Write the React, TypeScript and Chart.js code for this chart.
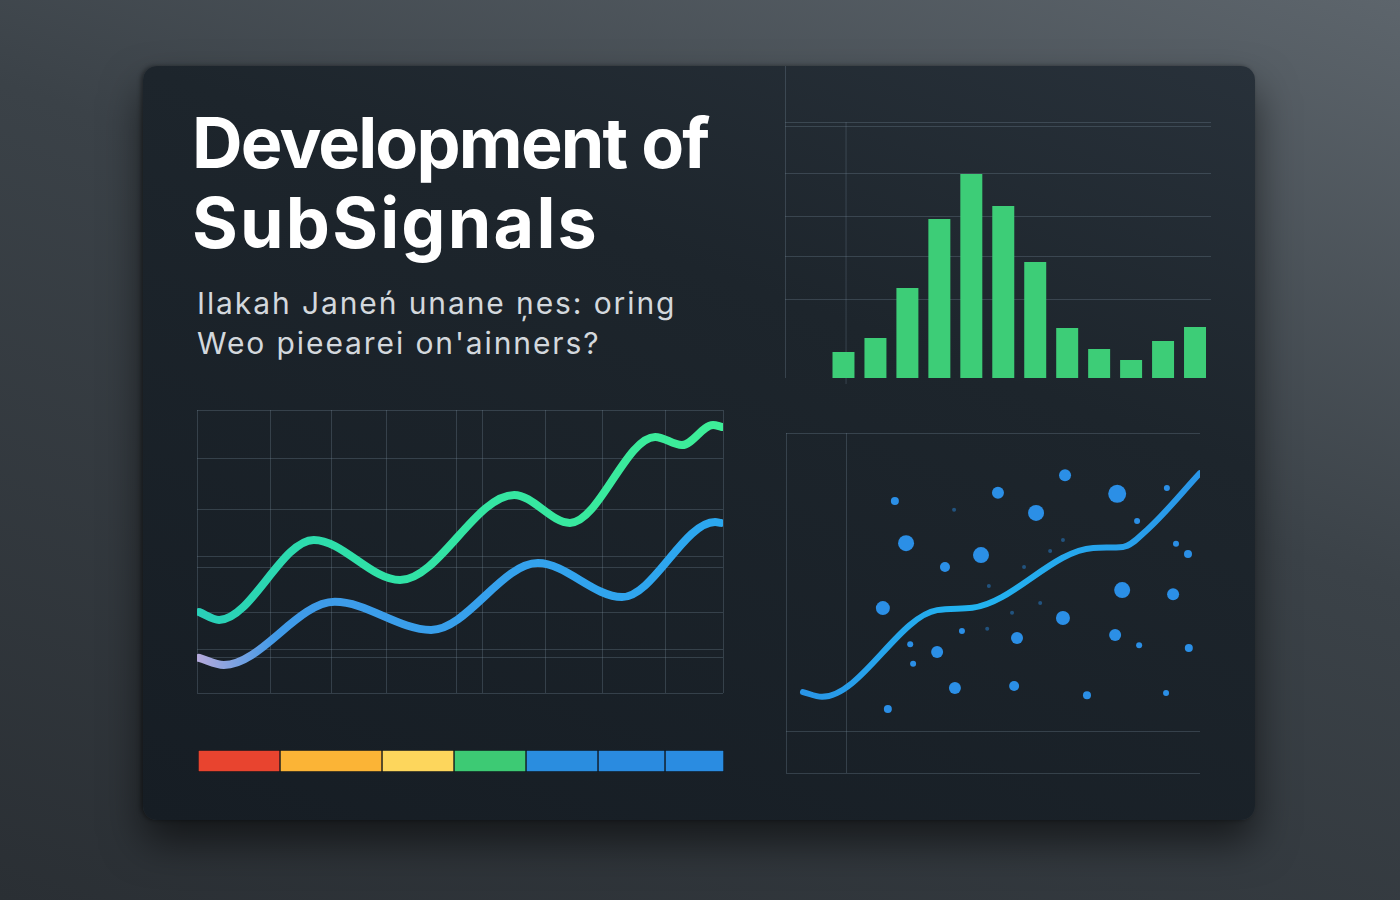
import React, { useEffect, useRef } from "react";
import { Chart, registerables } from "chart.js";

Chart.register(...registerables);

// ---------- DATA ----------
const titleLines = ["Development of", "SubSignals"];
const titleSpacing = [-1.8, 2.2];
const subtitleLines = ["Ilakah Janeń unane ņes: oring", "Weo pieearei on'ainners?"];

// Line chart (two smooth series)
const greenX = [0.4, 4.2, 22.2, 38.6, 60.3, 70.9, 87.1, 92.2, 98.1, 99.8];
const greenY = [28.6, 25.8, 54.1, 39.9, 70.0, 60.1, 90.5, 87.6, 94.7, 94.0];
const blueX = [0.4, 5.1, 26.2, 44.5, 64.8, 80.8, 98.5, 99.6];
const blueY = [12.4, 9.9, 32.2, 22.3, 45.9, 33.9, 60.4, 60.1];
const lineGridX = [0, 13.9, 25.5, 36.1, 49.4, 54.2, 66.2, 77.0, 89.0, 100];
const lineGridY = [0, 12.7, 15.5, 28.6, 44.2, 48.1, 65.0, 83.0, 100];

// Bar chart
const barValues = [26, 40, 90, 159, 204, 172, 116, 50, 29, 18, 37, 51];
const barGridY = [79, 122, 162, 205, 252, 256];

// Scatter chart
const trendX = [4.1, 8.7, 36.5, 45.0, 74.2, 81.4, 87.2, 100];
const trendY = [23.8, 22.4, 47.9, 48.6, 66.2, 66.5, 71.5, 88.2];
const dotX = [26.3, 29.0, 23.4, 38.4, 47.1, 51.2, 60.4, 67.4, 80.0, 81.2, 93.5, 97.1, 94.2, 92.0, 84.8, 66.9, 55.8, 79.5, 85.3, 97.3, 36.5, 30.0, 30.7, 40.8, 55.1, 72.7, 91.8, 24.6, 42.5, 48.6, 49.0, 57.5, 66.9, 63.8, 40.6, 54.6, 61.4];
const dotY = [80.0, 67.6, 48.5, 60.6, 64.1, 82.4, 76.5, 87.6, 82.1, 53.8, 52.6, 64.4, 67.4, 83.8, 74.1, 45.6, 39.7, 40.6, 37.6, 36.8, 35.6, 37.9, 32.1, 25.0, 25.6, 22.9, 23.5, 18.8, 41.8, 42.4, 55.0, 60.6, 68.5, 65.3, 77.4, 47.1, 50.0];
const dotSize = [4, 8, 7, 5, 8, 6, 8, 6, 9, 8, 6, 4, 3, 3, 3, 7, 6, 6, 3, 4, 6, 3, 3, 6, 5, 4, 3, 4, 3, 2, 2, 2, 2, 2, 2, 2, 2];
const scatterGridX = [0, 14.5];
const scatterGridY = [0, 12.35, 100];

// Colour strip
const stripValues = [82, 102, 72, 72, 72, 67, 59];
const stripColors = ["#e8442f", "#fbb436", "#fdd65c", "#3dca74", "#2a8ddf", "#2a8be0", "#2a8ce1"];

const gridColor = "rgba(120,140,155,0.3)";

function useChart(ref: React.RefObject<HTMLCanvasElement | null>, make: (c: HTMLCanvasElement) => Chart) {
  useEffect(() => {
    if (!ref.current) return;
    const ch = make(ref.current);
    return () => ch.destroy();
  }, []);
}

function hGradient(stops: [number, string][]) {
  return (ctx: any) => {
    const chart = ctx.chart;
    const area = chart.chartArea;
    if (!area) return stops[0][1];
    const g = chart.ctx.createLinearGradient(area.left, 0, area.right, 0);
    stops.forEach(([o, c]) => g.addColorStop(o, c));
    return g;
  };
}

function LineChart() {
  const ref = useRef<HTMLCanvasElement>(null);
  useChart(ref, (c) =>
    new Chart(c, {
      type: "line",
      data: {
        datasets: [
          {
            data: greenX.map((x, i) => ({ x, y: greenY[i] })),
            borderColor: hGradient([[0, "#29cfb9"], [0.3, "#2fe0a8"], [1, "#3eee98"]]),
            borderWidth: 8,
            pointRadius: 0,
            cubicInterpolationMode: "monotone",
            borderCapStyle: "round",
          },
          {
            data: blueX.map((x, i) => ({ x, y: blueY[i] })),
            borderColor: hGradient([[0, "#b6aadb"], [0.15, "#409ae8"], [1, "#2ba8f0"]]),
            borderWidth: 8,
            pointRadius: 0,
            cubicInterpolationMode: "monotone",
            borderCapStyle: "round",
          },
        ],
      },
      options: {
        animation: false,
        responsive: false,
        layout: { padding: 10 },
        plugins: { legend: { display: false }, tooltip: { enabled: false } },
        scales: {
          x: {
            type: "linear", min: 0, max: 100,
            afterBuildTicks: (s: any) => { s.ticks = lineGridX.map((v) => ({ value: v })); },
            ticks: { display: false },
            grid: { color: gridColor, drawTicks: false },
            border: { display: false },
          },
          y: {
            min: 0, max: 100,
            afterBuildTicks: (s: any) => { s.ticks = lineGridY.map((v) => ({ value: v })); },
            ticks: { display: false },
            grid: { color: gridColor, drawTicks: false },
            border: { display: false },
          },
        },
      },
    } as any)
  );
  return <canvas ref={ref} width={546} height={303} style={{ position: "absolute", left: 187, top: 400 }} />;
}

const partialLinePlugin = {
  id: "partialLine",
  beforeDatasetsDraw(chart: any) {
    const { ctx, scales } = chart;
    const x = scales.x.getPixelForValue(0.08);
    const y0 = scales.y.getPixelForValue(256);
    ctx.save();
    ctx.strokeStyle = gridColor;
    ctx.lineWidth = 1;
    ctx.beginPath();
    ctx.moveTo(x, y0);
    ctx.lineTo(x, chart.chartArea.bottom + 6);
    ctx.stroke();
    ctx.restore();
  },
};

function BarChart() {
  const ref = useRef<HTMLCanvasElement>(null);
  useChart(ref, (c) =>
    new Chart(c, {
      type: "bar",
      data: {
        datasets: [
          {
            data: barValues.map((v, i) => ({ x: i, y: v })),
            backgroundColor: "#3dcd77",
            barPercentage: 0.86,
            categoryPercentage: 0.8,
          },
        ],
      },
      plugins: [partialLinePlugin],
      options: {
        animation: false,
        responsive: false,
        layout: { padding: 10 },
        plugins: { legend: { display: false }, tooltip: { enabled: false } },
        scales: {
          x: {
            type: "linear", min: -1.83, max: 11.5, offset: false,
            afterBuildTicks: (s: any) => { s.ticks = [{ value: -1.83 }]; },
            ticks: { display: false },
            grid: { color: gridColor, drawTicks: false, offset: false },
            border: { display: false },
          },
          y: {
            min: 0, max: 312,
            afterBuildTicks: (s: any) => { s.ticks = barGridY.map((v) => ({ value: v })); },
            ticks: { display: false },
            grid: { color: gridColor, drawTicks: false },
            border: { display: false },
          },
        },
      },
    } as any)
  );
  return <canvas ref={ref} width={446} height={332} style={{ position: "absolute", left: 775, top: 56 }} />;
}

function ScatterChart() {
  const ref = useRef<HTMLCanvasElement>(null);
  useChart(ref, (c) =>
    new Chart(c, {
      type: "scatter",
      data: {
        datasets: [
          {
            type: "line",
            data: trendX.map((x, i) => ({ x, y: trendY[i] })),
            borderColor: hGradient([[0, "#2a92e6"], [0.45, "#22b4f0"], [1, "#2a96e8"]]),
            borderWidth: 6,
            pointRadius: 0,
            cubicInterpolationMode: "monotone",
            borderCapStyle: "round",
            order: 0,
          },
          {
            data: dotX.map((x, i) => ({ x, y: dotY[i] })),
            pointRadius: dotSize,
            pointBackgroundColor: dotSize.map((s) => (s <= 2 ? "rgba(43,143,230,0.45)" : "#2b8fe6")),
            pointBorderWidth: 0,
            order: 1,
          },
        ],
      },
      options: {
        animation: false,
        responsive: false,
        layout: { padding: 10 },
        plugins: { legend: { display: false }, tooltip: { enabled: false } },
        scales: {
          x: {
            type: "linear", min: 0, max: 100,
            afterBuildTicks: (s: any) => { s.ticks = scatterGridX.map((v) => ({ value: v })); },
            ticks: { display: false },
            grid: { color: gridColor, drawTicks: false },
            border: { display: false },
          },
          y: {
            min: 0, max: 100,
            afterBuildTicks: (s: any) => { s.ticks = scatterGridY.map((v) => ({ value: v })); },
            ticks: { display: false },
            grid: { color: gridColor, drawTicks: false },
            border: { display: false },
          },
        },
      },
    } as any)
  );
  return <canvas ref={ref} width={434} height={360} style={{ position: "absolute", left: 776, top: 423 }} />;
}

function StripChart() {
  const ref = useRef<HTMLCanvasElement>(null);
  useChart(ref, (c) =>
    new Chart(c, {
      type: "bar",
      data: {
        labels: [""],
        datasets: stripValues.map((v, i) => ({
          data: [v],
          backgroundColor: stripColors[i],
          borderColor: "#0f161c",
          borderWidth: 1,
          borderSkipped: false,
          barPercentage: 1,
          categoryPercentage: 1,
        })),
      },
      options: {
        indexAxis: "y",
        animation: false,
        responsive: false,
        plugins: { legend: { display: false }, tooltip: { enabled: false } },
        scales: {
          x: { stacked: true, display: false, min: 0, max: stripValues.reduce((a, b) => a + b, 0) },
          y: { stacked: true, display: false },
        },
      },
    } as any)
  );
  return <canvas ref={ref} width={526} height={22} style={{ position: "absolute", left: 198, top: 750 }} />;
}

export default function App() {
  return (
    <div
      style={{
        position: "fixed",
        left: 0,
        top: 0,
        width: 1400,
        height: 900,
        overflow: "hidden",
        background: "linear-gradient(200deg, #5d656c 0%, #3b4248 42%, #2a2f34 100%)",
        fontFamily: "Inter, 'Noto Sans', sans-serif",
      }}
    >
      <div
        style={{
          position: "absolute",
          left: 143,
          top: 66,
          width: 1112,
          height: 754,
          borderRadius: 14,
          background: "linear-gradient(200deg, #28313a 0%, #1d252c 35%, #161d24 100%)",
          boxShadow: "0 22px 40px rgba(0,0,0,0.55), -2px 0 4px rgba(0,0,0,0.4)",
        }}
      />
      <div
        style={{
          position: "absolute",
          left: 192,
          top: 103,
          color: "#ffffff",
          fontSize: 70,
          fontWeight: 700,
          lineHeight: "80px",
          whiteSpace: "nowrap",
        }}
      >
        {titleLines.map((t, i) => (
          <div key={t} style={{ letterSpacing: titleSpacing[i] }}>{t}</div>
        ))}
      </div>
      <div
        style={{
          position: "absolute",
          left: 197,
          top: 283,
          color: "#d3d8dd",
          fontSize: 30,
          fontWeight: 400,
          lineHeight: "40px",
          letterSpacing: 1.9,
          whiteSpace: "nowrap",
        }}
      >
        {subtitleLines.map((t) => (
          <div key={t}>{t}</div>
        ))}
      </div>
      <LineChart />
      <BarChart />
      <ScatterChart />
      <StripChart />
    </div>
  );
}
